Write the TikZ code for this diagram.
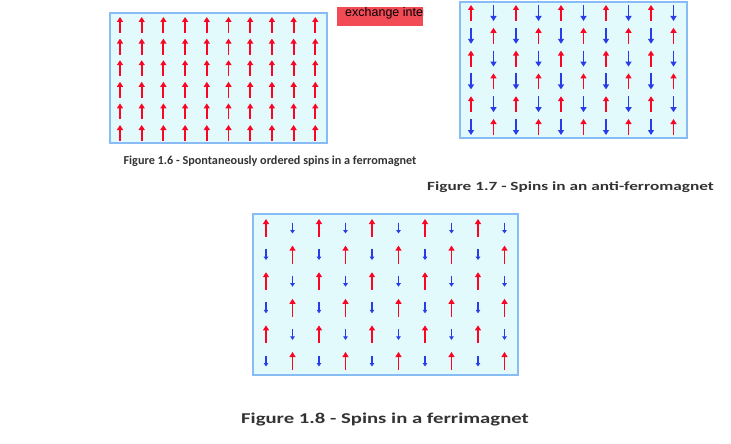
\documentclass[tikz,border=0pt]{standalone}
\usepackage{fontspec}
\usepackage{graphicx}
\setmainfont{Carlito}
\newfontfamily\arialfont{Liberation Sans}
\usetikzlibrary{arrows.meta}
\definecolor{spred}{RGB}{250,5,35}
\definecolor{spblue}{RGB}{40,60,235}
\definecolor{boxfill}{RGB}{226,250,252}
\definecolor{boxline}{RGB}{135,188,245}
\definecolor{lblred}{RGB}{242,75,85}
\tikzset{
 panel/.style={draw=boxline,line width=1.3pt,fill=boxfill},
 upred/.style={spred,line width=1.9pt,-{Triangle[length=5pt,width=6pt]}},
 dnblue/.style={spblue,line width=1.9pt,-{Triangle[length=5pt,width=6pt]}},
 smblue/.style={spblue,line width=1.1pt,-{Triangle[length=3.5pt,width=4.5pt]}},
 captext/.style={font=\bfseries\fontsize{12.2}{14}\selectfont,text=black!80}
}
\begin{document}
\begin{tikzpicture}[x=1pt,y=-1pt]
\useasboundingbox (0,0) rectangle (731,444);
% panel 1
\draw[panel] (110,13) rectangle (327,143);
\foreach \i in {0,...,9}{\foreach \j in {0,...,5}{
 \draw[upred] ({120+\i*21.7},{25+\j*21.6+8}) -- ++(0,-16);}}
\node[fill=lblred,inner sep=0pt,minimum width=86pt,minimum height=19pt,anchor=north west] (lbl) at (337,7) {};
\begin{scope}
\clip (337,7) rectangle (423,26);
\node[anchor=west,font=\arialfont\fontsize{12.5}{14}\selectfont,inner sep=0pt] (lbltxt) at (345,13) {exchange interaction};
\end{scope}
% panel 2
\draw[panel] (460,2) rectangle (687,138);
\foreach \i in {0,...,9}{\foreach \j in {0,...,5}{
 \pgfmathtruncatemacro\p{mod(\i+\j,2)}
 \ifnum\p=0
  \draw[upred] ({471+\i*22.5},{13+\j*22.8+8}) -- ++(0,-16);
 \else
  \draw[dnblue] ({471+\i*22.5},{13+\j*22.8-8}) -- ++(0,16);
 \fi}}
% panel 3
\draw[panel] (253,214) rectangle (518,375);
\foreach \i in {0,...,9}{\foreach \j in {0,...,5}{
 \pgfmathtruncatemacro\p{mod(\i+\j,2)}
 \ifnum\p=0
  \draw[upred] ({266+\i*26.5},{228+\j*26.6+9}) -- ++(0,-18);
 \else
  \draw[smblue] ({266+\i*26.5},{228+\j*26.6-5.5}) -- ++(0,11);
 \fi}}
% captions
\node[captext] (c6) at (270,161) {Figure 1.6 - Spontaneously ordered spins in a ferromagnet};
\node[captext,anchor=west,inner sep=0pt] (c7) at (427,187) {\scalebox{1.38}[1]{\fontsize{12.5}{14}\selectfont Figure 1.7 - Spins in an anti-ferromagnet}};
\node[captext,inner sep=0pt] (c8) at (385,420) {\scalebox{1.38}[1]{\fontsize{15}{17}\selectfont Figure 1.8 - Spins in a ferrimagnet}};
\end{tikzpicture}
\end{document}
